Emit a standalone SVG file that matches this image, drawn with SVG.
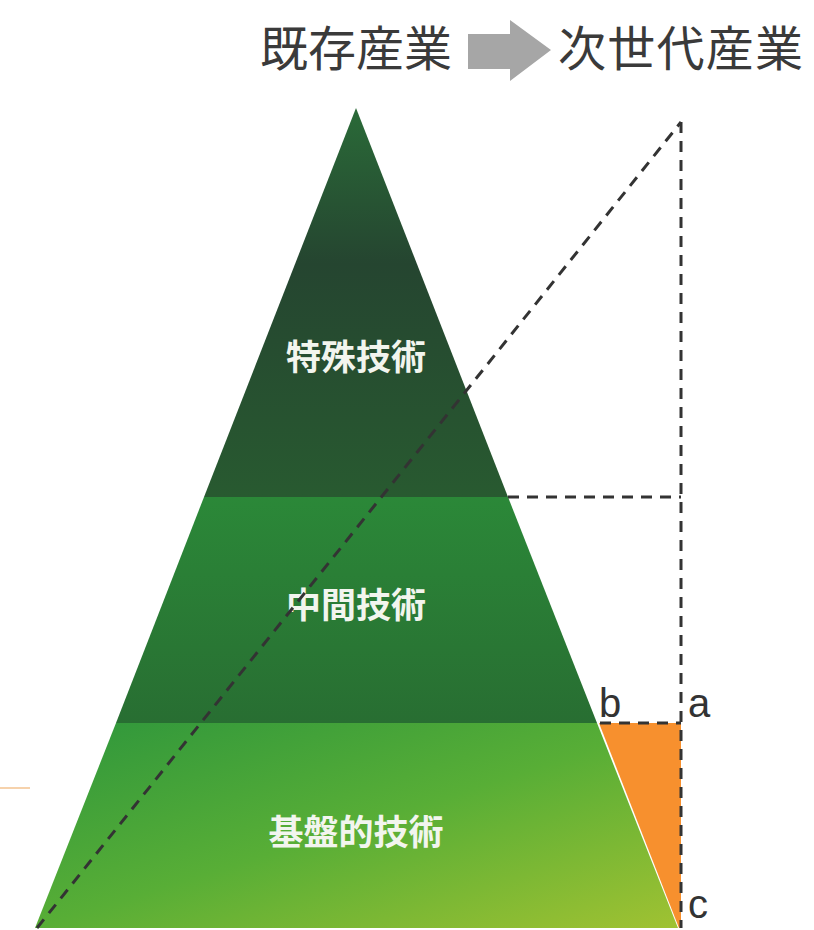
<svg xmlns="http://www.w3.org/2000/svg" width="814" height="930" viewBox="0 0 814 930">
<style>
.title{font-family:"Noto Sans CJK JP","Liberation Sans",sans-serif;font-size:48px;fill:#3a3a3a;font-weight:400}
.lbl{font-family:"Noto Sans CJK JP",sans-serif;font-size:35px;fill:#f2f5ee;text-anchor:middle;font-weight:700}
.let{font-family:"Liberation Sans","Noto Sans",sans-serif;font-size:40px;fill:#333}
.dash{fill:none;stroke:#333;stroke-width:3;stroke-dasharray:11 8}
</style>
<defs>
<linearGradient id="gTop" x1="0" y1="0" x2="0" y2="1">
<stop offset="0" stop-color="#2a6a38"/>
<stop offset="0.4" stop-color="#254530"/>
<stop offset="1" stop-color="#285a30"/>
</linearGradient>
<linearGradient id="gMid" x1="0" y1="0" x2="0" y2="1">
<stop offset="0" stop-color="#2b8838"/>
<stop offset="1" stop-color="#286e32"/>
</linearGradient>
<linearGradient id="gBot" x1="0" y1="0" x2="1" y2="1">
<stop offset="0" stop-color="#2e963c"/>
<stop offset="0.5" stop-color="#58ae36"/>
<stop offset="1" stop-color="#a0c232"/>
</linearGradient>
</defs>
<rect width="814" height="930" fill="#ffffff"/>
<g id="header">
<text class="title" x="260" y="66">既存産業</text>
<polygon points="468,34 510,34 510,20 551,50 510,81 510,69 468,69" fill="#a6a6a6"/>
<text class="title" x="558" y="66" textLength="245">次世代産業</text>
</g>
<g id="layer-special">
<polygon points="356,108 508,497 204,497" fill="url(#gTop)"/>
<text class="lbl" x="356" y="370">特殊技術</text>
</g>
<g id="layer-middle">
<polygon points="204,497 508,497 597,723 116,723" fill="url(#gMid)"/>
<text class="lbl" x="356" y="618">中間技術</text>
</g>
<g id="layer-base">
<polygon points="116,723 597,723 678,928 35,928" fill="url(#gBot)"/>
<text class="lbl" x="356" y="845">基盤的技術</text>
</g>
<g id="gap">
<polygon points="599,723 681,723 681,928 679,928" fill="#f7902e"/>
</g>
<g id="connectors">
<line class="dash" x1="681" y1="122" x2="681" y2="928"/>
<line class="dash" x1="508" y1="497" x2="681" y2="497"/>
<line class="dash" x1="600" y1="723" x2="681" y2="723"/>
<line class="dash" x1="37" y1="928" x2="681" y2="122"/>
</g>
<g id="labels">
<text class="let" x="599" y="717">b</text>
<text class="let" x="688" y="717">a</text>
<text class="let" x="688" y="918">c</text>
</g>
<line x1="0" y1="788" x2="30" y2="788" stroke="#f3c08a" stroke-width="2" opacity="0.7"/>
</svg>
